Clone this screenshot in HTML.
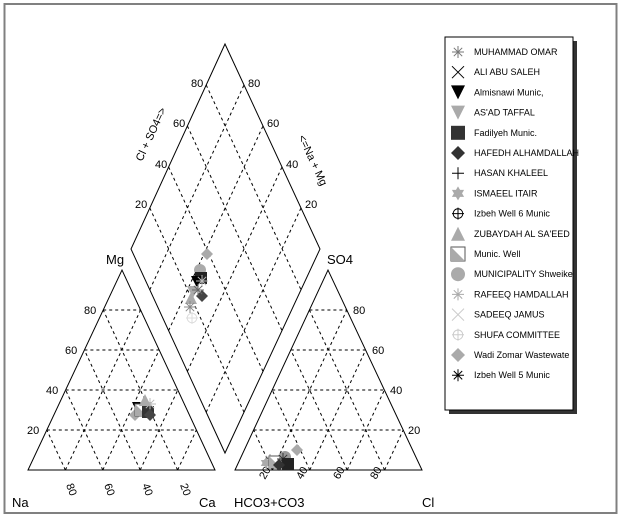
<!DOCTYPE html>
<html><head><meta charset="utf-8">
<style>
html,body{margin:0;padding:0;background:#fff;}
svg{display:block;}
text{font-family:"Liberation Sans",sans-serif;fill:#000;}
.lg{font-size:9px;}
</style></head><body>
<svg id="s" width="622" height="517" viewBox="0 0 622 517" xmlns="http://www.w3.org/2000/svg">
<rect x="0" y="0" width="622" height="517" fill="#fff"/>
<rect x="4.5" y="4" width="612" height="509" fill="none" stroke="#808080" stroke-width="2"/>
<g id="grid" stroke="#000" stroke-width="1" stroke-dasharray="3,3" fill="none"></g>
<g id="outl" stroke="#000" stroke-width="1" fill="none">
<polygon points="28,470 215,470 122,270"/>
<polygon points="235,470 422,470 328,270"/>
<polygon points="225,44 320,249 225,453 131,249"/>
</g>
<g font-size="11">
<text x="106" y="264" font-size="13">Mg</text>
<text x="327" y="264" font-size="13">SO4</text>
<text x="12" y="507" font-size="13">Na</text>
<text x="199" y="507" font-size="13">Ca</text>
<text x="234" y="507" font-size="13">HCO3+CO3</text>
<text x="422" y="507" font-size="13">Cl</text>
<text x="84" y="314">80</text><text x="65" y="354">60</text><text x="46" y="394">40</text><text x="27" y="434">20</text>
<text x="353" y="314">80</text><text x="372" y="354">60</text><text x="390" y="394">40</text>
<text x="408" y="434">20</text>
<text x="191" y="87">80</text><text x="173" y="127">60</text><text x="155" y="168">40</text><text x="135" y="208">20</text>
<text x="248" y="87">80</text><text x="267" y="127">60</text><text x="286" y="168">40</text><text x="305" y="208">20</text>
<text transform="translate(66,485) rotate(70)">80</text>
<text transform="translate(104,485) rotate(70)">60</text>
<text transform="translate(142,485) rotate(70)">40</text>
<text transform="translate(180,485) rotate(70)">20</text>
<text transform="translate(265,480) rotate(-60)">20</text>
<text transform="translate(302,480) rotate(-60)">40</text>
<text transform="translate(339,480) rotate(-60)">60</text>
<text transform="translate(376,480) rotate(-60)">80</text>
<text transform="translate(142,162) rotate(-65)">Cl + SO4=&gt;</text>
<text transform="translate(298,137) rotate(65)">&lt;=Na + Mg</text>
</g>
<g id="pts"></g>
<rect x="449" y="41" width="128" height="373" fill="#333"/>
<rect x="445" y="37" width="128" height="373" fill="#fff" stroke="#000" stroke-width="1"/>
<g class="lg" id="leg"></g>
</svg>
<script>
const NS="http://www.w3.org/2000/svg";
function el(p,t,a){const e=document.createElementNS(NS,t);for(const k in a)e.setAttribute(k,a[k]);p.appendChild(e);return e;}
const g=document.getElementById('grid');
function L(a,b){el(g,'line',{x1:a[0],y1:a[1],x2:b[0],y2:b[1]});}
function lerp(a,b,t){return [a[0]+(b[0]-a[0])*t,a[1]+(b[1]-a[1])*t];}
function tri(A,B,C){for(let i=1;i<5;i++){const t=i/5;
 L(lerp(A,C,t),lerp(B,C,t));L(lerp(A,B,t),lerp(C,B,t));L(lerp(B,A,t),lerp(C,A,t));}}
tri([28,470],[215,470],[122,270]);
tri([235,470],[422,470],[328,270]);
const T=[225,44],R=[320,249],B=[225,453],Lf=[131,249];
for(let i=1;i<5;i++){const t=i/5;L(lerp(Lf,B,t),lerp(T,R,t));L(lerp(Lf,T,t),lerp(B,R,t));}
const syms=[
['star','#777','MUHAMMAD OMAR'],['x','#000','ALI ABU SALEH'],['tdown','#000','Almisnawi Munic,'],
['tdown','#aaa',"AS'AD TAFFAL"],['sq','#333','Fadilyeh Munic.'],['dia','#333','HAFEDH ALHAMDALLAH'],
['plus','#000','HASAN KHALEEL'],['star6','#aaa','ISMAEEL ITAIR'],['cplus','#000','Izbeh Well 6 Munic'],
['tup','#aaa',"ZUBAYDAH AL SA'EED"],['half','#aaa','Munic. Well'],['circ','#aaa','MUNICIPALITY Shweike'],
['star','#aaa','RAFEEQ HAMDALLAH'],['x','#ccc','SADEEQ JAMUS'],['cplus','#ccc','SHUFA COMMITTEE'],
['dia','#aaa','Wadi Zomar Wastewate'],['star','#000','Izbeh Well 5 Munic']];
function mk(p,type,c,x,y,s){s=s||8;const h=s;
 switch(type){
 case 'x':el(p,'path',{d:`M${x-h} ${y-h}L${x+h} ${y+h}M${x-h} ${y+h}L${x+h} ${y-h}`,stroke:c,fill:'none'});break;
 case 'plus':el(p,'path',{d:`M${x-h} ${y}L${x+h} ${y}M${x} ${y-h}L${x} ${y+h}`,stroke:c,fill:'none'});break;
 case 'star':case 'star6':if(type=='star6'){el(p,'polygon',{points:`${x},${y-h} ${x+h*.87},${y+h/2} ${x-h*.87},${y+h/2}`,fill:c});el(p,'polygon',{points:`${x},${y+h} ${x+h*.87},${y-h/2} ${x-h*.87},${y-h/2}`,fill:c});}
  else el(p,'path',{d:`M${x-h} ${y}L${x+h} ${y}M${x} ${y-h}L${x} ${y+h}M${x-h*.7} ${y-h*.7}L${x+h*.7} ${y+h*.7}M${x-h*.7} ${y+h*.7}L${x+h*.7} ${y-h*.7}`,stroke:c,fill:'none'});break;
 case 'tdown':el(p,'polygon',{points:`${x-h},${y-h} ${x+h},${y-h} ${x},${y+h}`,fill:c});break;
 case 'tup':el(p,'polygon',{points:`${x-h},${y+h} ${x+h},${y+h} ${x},${y-h}`,fill:c});break;
 case 'sq':el(p,'rect',{x:x-h,y:y-h,width:2*h,height:2*h,fill:c});break;
 case 'dia':el(p,'polygon',{points:`${x},${y-h} ${x+h},${y} ${x},${y+h} ${x-h},${y}`,fill:c});break;
 case 'circ':el(p,'circle',{cx:x,cy:y,r:h,fill:c});break;
 case 'cplus':el(p,'circle',{cx:x,cy:y,r:h*.8,fill:'none',stroke:c});el(p,'path',{d:`M${x-h} ${y}L${x+h} ${y}M${x} ${y-h}L${x} ${y+h}`,stroke:c});break;
 case 'half':el(p,'rect',{x:x-h,y:y-h,width:2*h,height:2*h,fill:'#fff',stroke:'#555'});el(p,'polygon',{points:`${x-h},${y-h} ${x+h},${y+h} ${x-h},${y+h}`,fill:c});break;
 }}
const leg=document.getElementById('leg');
syms.forEach((s,i)=>{const y=52+i*20.2;mk(leg,s[0],s[1],458,y,s[0]=='x'||s[0]=='plus'||s[0]=='star'||s[0]=='cplus'?6:7);
 const t=el(leg,'text',{x:474,y:y+3});t.textContent=s[2];});
const P=document.getElementById('pts');
const cl=[[207,254,'dia','#aaa'],[200,270,'circ','#aaa'],[201,278,'sq','#222'],[197,282,'tdown','#000'],[202,281,'star','#bbb'],
[202,296,'dia','#444'],[193,292,'tdown','#aaa'],[191,298,'tup','#aaa'],[198,290,'star','#666'],[190,307,'star','#888'],[192,318,'cplus','#ddd']];
cl.forEach(p=>mk(P,p[2],p[3],p[0],p[1],6));
const lt=[[135,415,'dia','#aaa'],[138,408,'tdown','#000'],[141,410,'half','#aaa'],[146,408,'tdown','#aaa'],[148,412,'sq','#333'],[150,404,'star','#bbb'],[145,400,'tup','#aaa'],[150,415,'dia','#444']];
lt.forEach(p=>mk(P,p[2],p[3],p[0],p[1],6));
const rt=[[297,450,'dia','#aaa'],[270,460,'star','#999'],[266,463,'star6','#aaa'],[275,462,'half','#aaa'],[285,457,'circ','#999'],[283,459,'star','#333'],[288,464,'sq','#222'],[279,465,'dia','#333']];
rt.forEach(p=>mk(P,p[2],p[3],p[0],p[1],6));
</script>
</body></html>
